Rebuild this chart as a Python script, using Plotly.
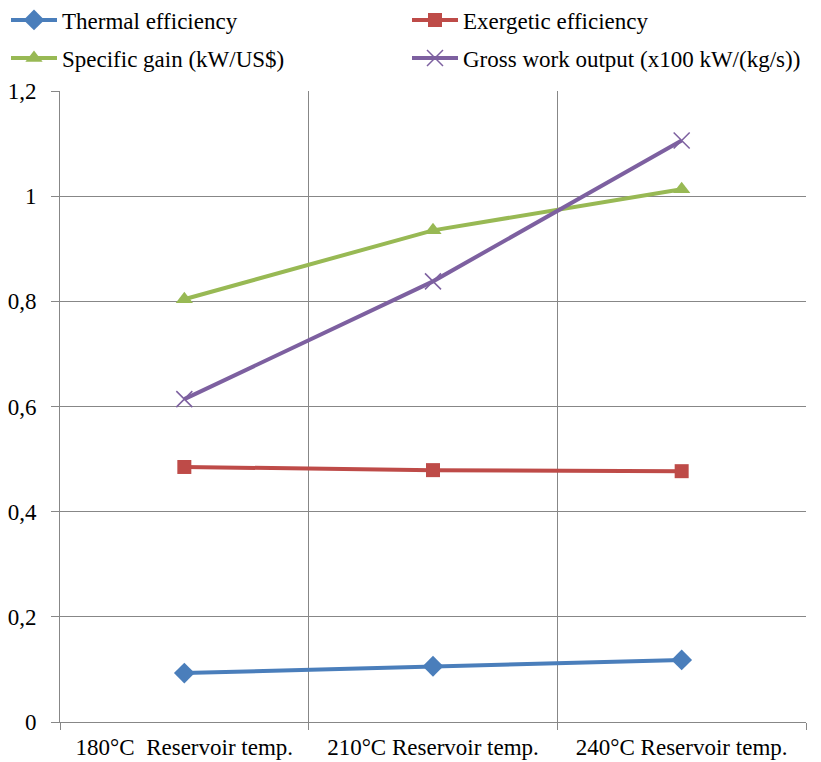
import plotly.graph_objects as go

categories = ["180°C\u00a0 Reservoir temp.", "210°C Reservoir temp.", "240°C Reservoir temp."]
thermal = [0.093, 0.106, 0.118]
exergetic = [0.485, 0.479, 0.477]
specific_gain = [0.804, 0.935, 1.013]
gross_work = [0.614, 0.838, 1.106]

names = ["Thermal efficiency", "Exergetic efficiency",
         "Specific gain (kW/US$)", "Gross work output (x100 kW/(kg/s))"]
colors = ["#4A7EBB", "#BE4B48", "#98B954", "#7D60A0"]
symbols = ["diamond", "square", "triangle-up", "x-thin"]
sizes = [16, 14, 15, 16]
series = [thermal, exergetic, specific_gain, gross_work]

FONT = "Liberation Serif, Times New Roman, serif"
W, H = 821, 762

# legend slot positions (pixels in page): (x of legend box, y centre of row)
legend_ids = ["legend", "legend2", "legend3", "legend4"]
legend_pos = [(6, 20), (407, 20), (6, 58), (407, 58)]

fig = go.Figure()
for name, vals, c, s, sz, lid in zip(names, series, colors, symbols, sizes, legend_ids):
    marker = dict(symbol=s, size=sz, color=c)
    if s == "x-thin":
        marker["line"] = dict(color=c, width=1.5)
    fig.add_trace(go.Scatter(x=categories, y=vals, mode="lines+markers", name=name,
                             line=dict(color=c, width=4), marker=marker, legend=lid))

legend_layout = {}
for lid, (px, py) in zip(legend_ids, legend_pos):
    legend_layout[lid] = dict(x=px / W, xref="container", xanchor="left",
                              y=1 - py / H, yref="container", yanchor="middle",
                              orientation="v", itemwidth=46,
                              bgcolor="rgba(0,0,0,0)",
                              font=dict(family=FONT, size=23, color="black"))

fig.update_layout(
    width=W, height=H,
    margin=dict(l=60, r=15, t=91, b=40, autoexpand=False),
    paper_bgcolor="white", plot_bgcolor="white",
    font=dict(family=FONT, size=23, color="black"),
    separators=",.",
    showlegend=True,
    **legend_layout,
)
fig.update_xaxes(type="category", range=[-0.5, 2.5], tickson="boundaries",
                 showgrid=True, gridcolor="#878787", gridwidth=1,
                 showline=True, linecolor="#878787", linewidth=1,
                 ticks="outside", ticklen=7, tickcolor="#878787",
                 ticklabelstandoff=4,
                 tickfont=dict(family=FONT, size=23))
fig.update_yaxes(range=[0, 1.2], dtick=0.2, showgrid=True, gridcolor="#878787", gridwidth=1,
                 showline=True, linecolor="#878787", linewidth=1, zeroline=False,
                 ticks="outside", ticklen=8, tickcolor="#878787",
                 ticklabelstandoff=10,
                 tickfont=dict(family=FONT, size=23))

fig.write_html("out.html")
